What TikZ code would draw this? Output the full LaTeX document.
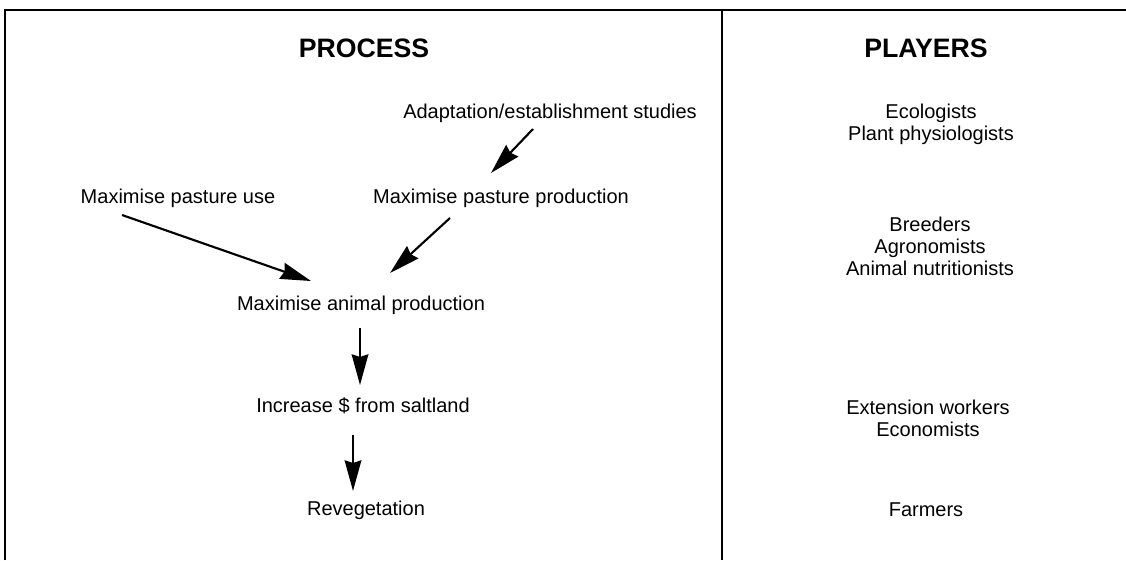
\documentclass[tikz,border=0pt]{standalone}
\usepackage{fontspec}
\setmainfont{Liberation Sans}
\usetikzlibrary{arrows.meta}
\begin{document}
\begin{tikzpicture}[x=0.75pt,y=-0.75pt,
  lbl/.style={font=\fontsize{15}{16.5}\selectfont, inner sep=0pt, align=center},
  head/.style={font=\bfseries\fontsize{20}{22}\selectfont, inner sep=0pt},
  frame/.style={line width=1.2pt},
  arr/.style={line width=1.6pt, -{Stealth[length=23pt,width=12.5pt,inset=2pt]}}]
\useasboundingbox (0,0) rectangle (1126,560);
% frame
\coordinate (tl) at (5,10);
\coordinate (tr) at (1126,10);
\coordinate (bl) at (5,560);
\coordinate (dt) at (722,10);
\coordinate (db) at (722,560);
\draw[frame] (bl) -- (tl) -- (tr);
\draw[frame] (dt) -- (db);
% headings
\node[head] (process) at (364,48) {PROCESS};
\node[head] (players) at (926,48) {PLAYERS};
% process
\node[lbl] (adapt) at (550,113) {Adaptation/establishment studies};
\node[lbl] (mpp) at (501,198) {Maximise pasture production};
\node[lbl] (mpu) at (178,198) {Maximise pasture use};
\node[lbl] (map) at (361,305) {Maximise animal production};
\node[lbl] (inc) at (363,406) {Increase \$ from saltland};
\node[lbl] (rev) at (366,510) {Revegetation};
\coordinate (a1s) at (533,129);
\coordinate (a1e) at (491,173);
\coordinate (a2s) at (450,218);
\coordinate (a2e) at (390,273);
\coordinate (a3s) at (122,215);
\coordinate (a3e) at (311,281);
\draw[arr] (a1s) -- (a1e);
\draw[arr] (a2s) -- (a2e);
\draw[arr] (a3s) -- (a3e);
\coordinate (a4s) at (360,328);
\coordinate (a4e) at (360,385);
\coordinate (a5s) at (353,435);
\coordinate (a5e) at (353,491);
\draw[arr] (a4s) -- (a4e);
\draw[arr] (a5s) -- (a5e);
% players
\node[lbl] (p1) at (931,124) {Ecologists\\Plant physiologists};
\node[lbl] (p2) at (930,246) {Breeders\\Agronomists\\Animal nutritionists};
\node[lbl] (p3) at (928,418) {Extension workers\\Economists};
\node[lbl] (p4) at (926,510) {Farmers};
\end{tikzpicture}
\end{document}
